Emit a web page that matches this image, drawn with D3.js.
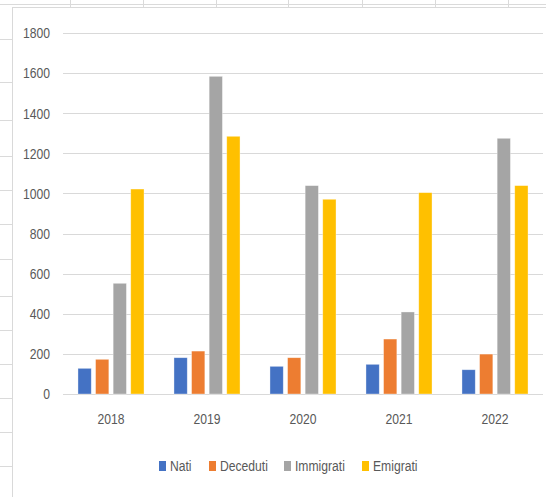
<!DOCTYPE html>
<html>
<head>
<meta charset="utf-8">
<script src="https://cdn.jsdelivr.net/npm/d3@7"></script>
<style>
  body { margin: 0; background: #fff; }
  svg { display: block; }
  text { font-family: "Liberation Sans", Arial, sans-serif; fill: #595959; }
</style>
</head>
<body>
<svg id="chart" width="546" height="497"></svg>
<script>
const years = ["2018", "2019", "2020", "2021", "2022"];
const series = ["Nati", "Deceduti", "Immigrati", "Emigrati"];
const nati = [128, 181, 138, 148, 121];
const deceduti = [173, 214, 181, 274, 199];
const immigrati = [552, 1584, 1039, 409, 1275];
const emigrati = [1022, 1285, 971, 1004, 1039];
const yTicks = [0, 200, 400, 600, 800, 1000, 1200, 1400, 1600, 1800];
const colours = ["#4472C4", "#ED7D31", "#A5A5A5", "#FFC000"];

const values = [nati, deceduti, immigrati, emigrati];
const data = years.map((y, i) => ({year: y, vals: series.map((s, j) => ({key: s, value: values[j][i]}))}));

// the original font is a narrow one, squeeze a normal sans to fit
const narrow = 0.81;

const svg = d3.select("#chart");

// spreadsheet behind the chart
const sheet = svg.append("g").attr("stroke", "#dadada").attr("stroke-width", 1);
sheet.append("line").attr("x1", 0).attr("x2", 546).attr("y1", 4.5).attr("y2", 4.5);
[70, 143, 216, 288, 362, 435, 508].forEach(x => {
  sheet.append("line").attr("x1", x + 0.5).attr("x2", x + 0.5).attr("y1", 0).attr("y2", 8);
});
[39, 82, 120, 156, 190, 224, 259, 296, 330, 364, 398, 432, 466].forEach(y => {
  sheet.append("line").attr("x1", 0).attr("x2", 12).attr("y1", y + 0.5).attr("y2", y + 0.5);
});

// chart area
svg.append("rect")
  .attr("x", 12.5).attr("y", 7.5).attr("width", 560).attr("height", 520)
  .attr("fill", "#fff").attr("stroke", "#d9d9d9");

const x0 = d3.scaleBand().domain(years).range([63, 543]);
const x1 = d3.scaleBand().domain(series)
  .range([x0.bandwidth() * 0.156, x0.bandwidth() * 0.844])
  .paddingInner(0.245);
const y = d3.scaleLinear().domain([0, 1800]).range([394, 33]);
const colour = d3.scaleOrdinal().domain(series).range(colours);

// gridlines
svg.append("g")
  .selectAll("line")
  .data(yTicks)
  .enter()
  .append("line")
  .attr("x1", 63).attr("x2", 543)
  .attr("y1", d => Math.round(y(d)) + 0.5)
  .attr("y2", d => Math.round(y(d)) + 0.5)
  .attr("stroke", "#d9d9d9")
  .attr("stroke-width", 1);

// y axis labels
const yAxis = svg.append("g")
  .attr("transform", "translate(54,0)")
  .call(d3.axisLeft(y).tickValues(yTicks).tickFormat(d3.format("d")).tickSize(0).tickPadding(5));
yAxis.select(".domain").remove();
yAxis.selectAll("text")
  .style("font-size", "15px")
  .attr("fill", "#595959")
  .attr("transform", "scale(" + narrow + ",1)");

// x axis labels
const xAxis = svg.append("g")
  .attr("transform", "translate(0,413)")
  .call(d3.axisBottom(x0).tickSize(0).tickPadding(0));
xAxis.select(".domain").remove();
xAxis.selectAll("text")
  .style("font-size", "15px")
  .attr("fill", "#595959")
  .attr("transform", "scale(" + narrow + ",1)");

// bars
svg.append("g")
  .selectAll("g")
  .data(data)
  .enter()
  .append("g")
  .attr("transform", d => "translate(" + x0(d.year) + ",0)")
  .selectAll("rect")
  .data(d => d.vals)
  .enter()
  .append("rect")
  .attr("x", d => x1(d.key))
  .attr("y", d => y(d.value))
  .attr("width", x1.bandwidth())
  .attr("height", d => y(0) - y(d.value))
  .attr("fill", d => colour(d.key))
  .attr("stroke", "#fff")
  .attr("stroke-opacity", 0.5)
  .attr("stroke-width", 0.7);

// legend
const legendX = [159, 209, 284, 362];
const legend = svg.append("g")
  .selectAll("g")
  .data(series)
  .enter()
  .append("g")
  .attr("transform", (d, i) => "translate(" + legendX[i] + ",460)");
legend.append("rect")
  .attr("y", 1)
  .attr("width", 7).attr("height", 10)
  .attr("fill", d => colour(d));
legend.append("text")
  .attr("transform", "translate(11,11) scale(" + narrow + ",1)")
  .style("font-size", "15px")
  .text(d => d);
</script>
</body>
</html>
